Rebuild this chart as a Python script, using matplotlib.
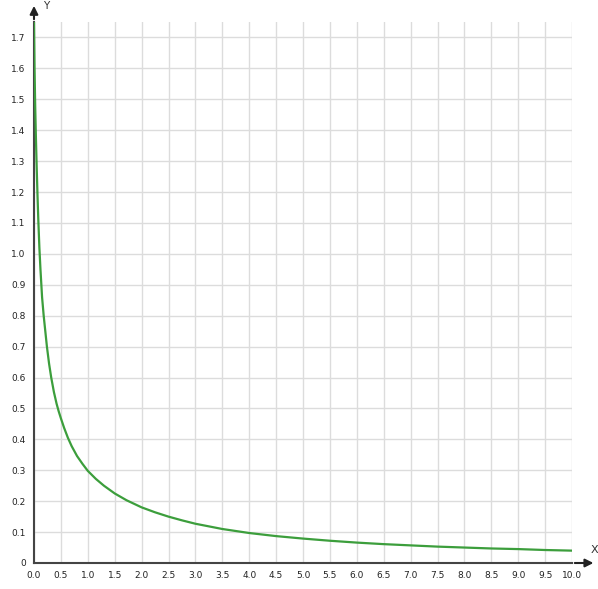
import matplotlib.pyplot as plt
import numpy as np

# values
x_vals = [0.0, 0.01, 0.022, 0.035, 0.05, 0.065, 0.08, 0.1, 0.12, 0.15, 0.18,
          0.24, 0.28, 0.32, 0.37, 0.42, 0.46, 0.5, 0.56, 0.63, 0.7, 0.8, 0.9,
          1.0, 1.15, 1.3, 1.5, 1.72, 2.0, 2.25, 2.5, 2.75, 3.0, 3.5, 4.0, 4.5,
          5.0, 5.5, 6.0, 6.5, 7.0, 7.5, 8.0, 8.5, 9.0, 9.5, 10.0]
y_vals = [1.75, 1.6, 1.48, 1.38, 1.28, 1.19, 1.11, 1.02, 0.95, 0.86, 0.8,
          0.7, 0.645, 0.6, 0.553, 0.515, 0.49, 0.468, 0.437, 0.405, 0.378, 0.346, 0.321,
          0.298, 0.272, 0.25, 0.225, 0.203, 0.18, 0.164, 0.15, 0.138, 0.127, 0.11, 0.097, 0.087,
          0.079, 0.072, 0.066, 0.061, 0.057, 0.053, 0.05, 0.047, 0.045, 0.042, 0.040]

x_ticks = np.arange(0, 10.01, 0.5)
y_ticks = np.arange(0, 1.71, 0.1)
x_labels = [f'{t:.1f}' for t in x_ticks]
y_labels = ['0'] + [f'{t:.1f}' for t in y_ticks[1:]]

fig = plt.figure(figsize=(5.98, 5.89), dpi=100)
ax = fig.add_axes([34 / 598, 1 - 563 / 589, 538 / 598, 541 / 589])

ax.plot(x_vals, y_vals, color='#3c9e3c', lw=1.6, zorder=3)

ax.set_xlim(0, 10)
ax.set_ylim(0, 1.75)
ax.set_xticks(x_ticks)
ax.set_xticklabels(x_labels)
ax.set_yticks(y_ticks)
ax.set_yticklabels(y_labels)
ax.tick_params(length=0, labelsize=6.5, colors='#222222', pad=6)
ax.grid(color='#dcdcdc', lw=1)
ax.set_axisbelow(True)

for s in ['top', 'right']:
    ax.spines[s].set_visible(False)
for s in ['left', 'bottom']:
    ax.spines[s].set_color('#444444')
    ax.spines[s].set_linewidth(1.5)

# axis arrows
ax.annotate('', xy=(1.045, 0), xytext=(1.0, 0), xycoords='axes fraction',
            arrowprops=dict(arrowstyle='-|>', color='#222222', lw=1.5, mutation_scale=12),
            annotation_clip=False)
ax.annotate('', xy=(0, 1.035), xytext=(0, 1.0), xycoords='axes fraction',
            arrowprops=dict(arrowstyle='-|>', color='#222222', lw=1.5, mutation_scale=12),
            annotation_clip=False)
ax.text(1.035, 0.015, 'X', transform=ax.transAxes, fontsize=8, color='#333333',
        ha='left', va='bottom')
fig.text(43 / 598, 1 - 1 / 589, 'Y', fontsize=7.5, color='#333333',
         ha='left', va='top')

fig.savefig('out.png', dpi=100)
